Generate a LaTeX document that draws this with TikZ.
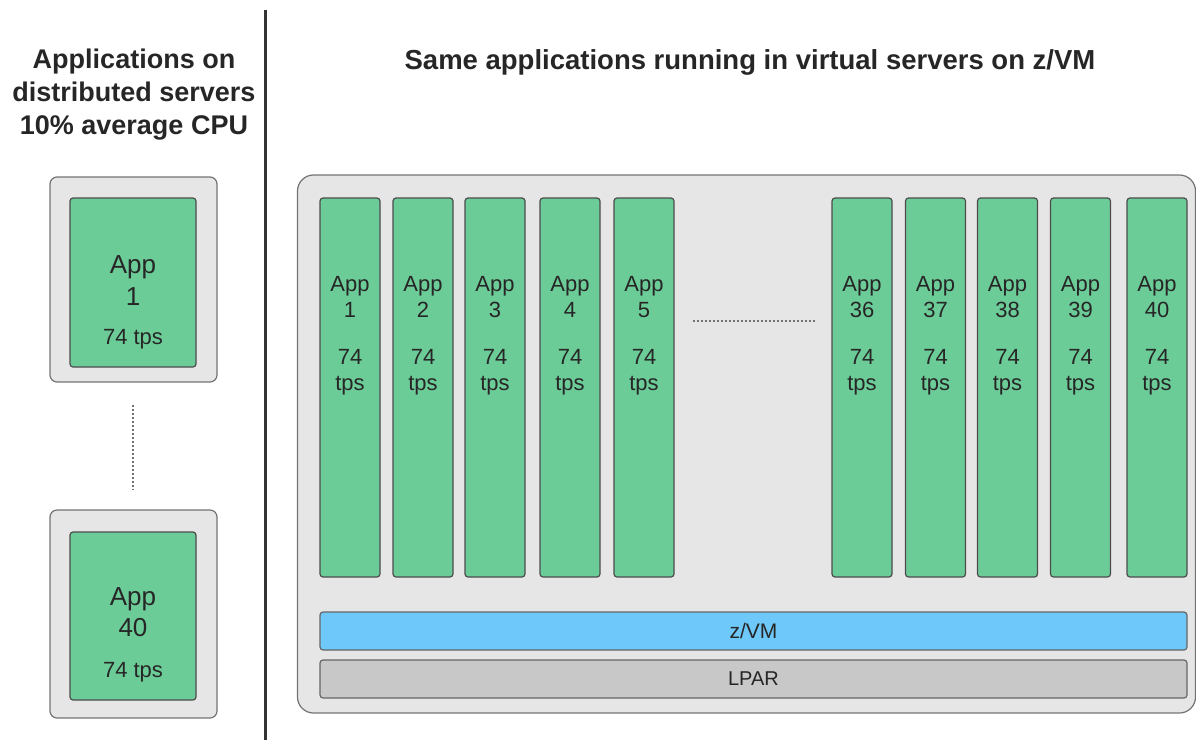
\documentclass[tikz,border=0pt]{standalone}
\usepackage{fontspec}
\setmainfont{Liberation Sans}
\usetikzlibrary{positioning}

\definecolor{appgreen}{RGB}{108,204,152}
\definecolor{zvmblue}{RGB}{110,200,250}
\definecolor{lpargray}{RGB}{200,200,200}
\definecolor{boxgray}{RGB}{230,230,230}
\definecolor{edgegray}{RGB}{115,115,115}

\tikzset{
  server/.style={draw=edgegray, fill=boxgray, line width=1.2pt, rounded corners=7pt},
  appbox/.style={draw=black!70, fill=appgreen, line width=1.2pt, rounded corners=3pt},
  bar/.style={draw=black!60, line width=1.2pt, rounded corners=3pt,
    minimum width=867pt, minimum height=38pt, font=\fontsize{21}{24}\selectfont, text=black!85},
  title/.style={font=\fontsize{27}{33}\selectfont\bfseries, text=black!85, align=center},
  coltext/.style={font=\fontsize{22}{26}\selectfont, text=black!85, align=center},
  dots/.style={draw=black!55, line width=1.2pt, dash pattern=on 2pt off 2pt}
}

\begin{document}
\begin{tikzpicture}[x=1pt, y=-1pt]
 \useasboundingbox (0,0) rectangle (1196,740);

 \node[title] (lefttitle) at (134,95) {Applications on\\distributed servers\\10\% average CPU};
 \node[title, font=\fontsize{27.5}{33}\selectfont\bfseries] (righttitle) at (750,62) {Same applications running in virtual servers on z/VM};

 \coordinate (septop) at (265,10);
 \coordinate (sepbot) at (265,740);
 \draw[line width=3pt, black!80] (septop) -- (sepbot);

 \node[server, minimum width=167pt, minimum height=205pt] (server1) at (133.5,279.5) {};
 \node[appbox, minimum width=126pt, minimum height=169pt] (app1) at (133,282.5) {};
 \node[coltext, font=\fontsize{26}{32}\selectfont] (app1lbl) at ([yshift=-83pt]app1.north) {App\\1};
 \node[coltext, font=\fontsize{22}{26}\selectfont] (app1tps) at ([yshift=-142pt]app1.north) {74 tps};

 \node[server, minimum width=167pt, minimum height=208pt] (server40) at (133.5,614) {};
 \node[appbox, minimum width=126pt, minimum height=168pt] (app40) at (133,616) {};
 \node[coltext, font=\fontsize{26}{31}\selectfont] (app40lbl) at ([yshift=-80.5pt]app40.north) {App\\40};
 \node[coltext, font=\fontsize{22}{26}\selectfont] (app40tps) at ([yshift=-141pt]app40.north) {74 tps};

 \coordinate (vdottop) at (133,405);
 \coordinate (vdotbot) at (133,490);
 \draw[dots] (vdottop) -- (vdotbot);

 \node[server, rounded corners=16pt, minimum width=898pt, minimum height=538pt] (zsystem) at (746.5,444) {};

 \foreach \i/\x in {1/350,2/423,3/495,4/570,5/644,36/862,37/935.5,38/1007.5,39/1080.5,40/1157} {
  \node[appbox, minimum width=60pt, minimum height=379pt] (col\i) at (\x,387.5) {};
  \node[coltext] (col\i txt) at ([yshift=-138.5pt]col\i.north) {App\\\i\\[21pt]74\\tps};
 }

 \coordinate (hdotleft) at (693,321);
 \coordinate (hdotright) at (815,321);
 \draw[dots] (hdotleft) -- (hdotright);

 \node[bar, fill=zvmblue] (zvm) at (753.5,631) {z/VM};
 \node[bar, fill=lpargray, font=\fontsize{20}{24}\selectfont] (lpar) at (753.5,679) {LPAR};
\end{tikzpicture}
\end{document}
